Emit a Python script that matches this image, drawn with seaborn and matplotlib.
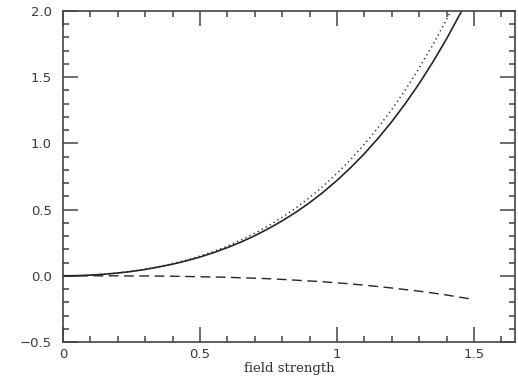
import numpy as np
import pandas as pd
import seaborn as sns
import matplotlib.pyplot as plt
from matplotlib.ticker import MultipleLocator

# values
field = [0.00, 0.05, 0.10, 0.15, 0.20, 0.25, 0.30, 0.35, 0.40, 0.45, 0.50,
         0.55, 0.60, 0.65, 0.70, 0.75, 0.80, 0.85, 0.90, 0.95, 1.00,
         1.05, 1.10, 1.15, 1.20, 1.25, 1.30, 1.35, 1.40, 1.45, 1.50]
solid = [0.000, 0.001, 0.005, 0.012, 0.021, 0.033, 0.048, 0.067, 0.088, 0.113, 0.142,
         0.175, 0.213, 0.255, 0.303, 0.356, 0.415, 0.480, 0.552, 0.632, 0.720,
         0.817, 0.922, 1.038, 1.164, 1.302, 1.451, 1.614, 1.789, 1.980, 2.185]
dotted = [0.000, 0.001, 0.005, 0.012, 0.022, 0.034, 0.050, 0.069, 0.092, 0.118, 0.149,
          0.184, 0.224, 0.270, 0.321, 0.378, 0.442, 0.512, 0.591, 0.678, 0.773,
          0.878, 0.993, 1.119, 1.256, 1.405, 1.568, 1.744, 1.935, 2.141, 2.364]
dashed = [0.000, 0.000, 0.000, 0.000, 0.000, -0.001, -0.001, -0.002, -0.003, -0.005, -0.007,
          -0.009, -0.011, -0.015, -0.018, -0.022, -0.027, -0.033, -0.039, -0.045, -0.053,
          -0.061, -0.071, -0.081, -0.092, -0.104, -0.116, -0.130, -0.145, -0.162, -0.179]

xticks = [0, 0.5, 1, 1.5]
xticklabels = ["0", "0.5", "1", "1.5"]
yticks = [-0.5, 0.0, 0.5, 1.0, 1.5, 2.0]
yticklabels = ["\u22120.5", "0.0", "0.5", "1.0", "1.5", "2.0"]

df = pd.DataFrame({"field": field, "solid": solid, "dotted": dotted, "dashed": dashed})

sns.set_style("ticks")
plt.rcParams["font.family"] = ["DejaVu Sans"]

fig = plt.figure(figsize=(5.18, 3.78), dpi=100)
ax = fig.add_axes([0.1216, 0.0952, 0.8726, 0.8757])

col = "#262626"
sns.lineplot(x="field", y="solid", data=df, ax=ax, color=col, lw=1.2)
sns.lineplot(x="field", y="dotted", data=df, ax=ax, color=col, lw=1.1,
             linestyle=(0, (0.8, 2.2)))
sns.lineplot(x="field", y="dashed", data=df, ax=ax, color=col, lw=1.0,
             linestyle=(0, (7, 4)))

ax.set_xlim(0, 1.65)
ax.set_ylim(-0.5, 2.0)
ax.set_xticks(xticks)
ax.set_xticklabels(xticklabels)
ax.set_yticks(yticks)
ax.set_yticklabels(yticklabels)
ax.xaxis.set_minor_locator(MultipleLocator(0.1))
ax.yaxis.set_minor_locator(MultipleLocator(0.1))

for s in ax.spines.values():
    s.set_visible(True)
    s.set_linewidth(1.2)
    s.set_color("#444444")
ax.tick_params(which="both", direction="in", top=True, right=True, color="#444444",
               width=1.1, labelcolor="#3a3a3a", labelsize=9.5)
ax.tick_params(which="major", length=11)
ax.tick_params(which="minor", length=4)
ax.tick_params(axis="y", pad=8)
ax.tick_params(axis="x", pad=4)

ax.set_xlabel("field strength", family="DejaVu Serif", fontsize=9.5, color="#333333", labelpad=1)
ax.set_ylabel("")

plt.savefig("out.png", dpi=100)
